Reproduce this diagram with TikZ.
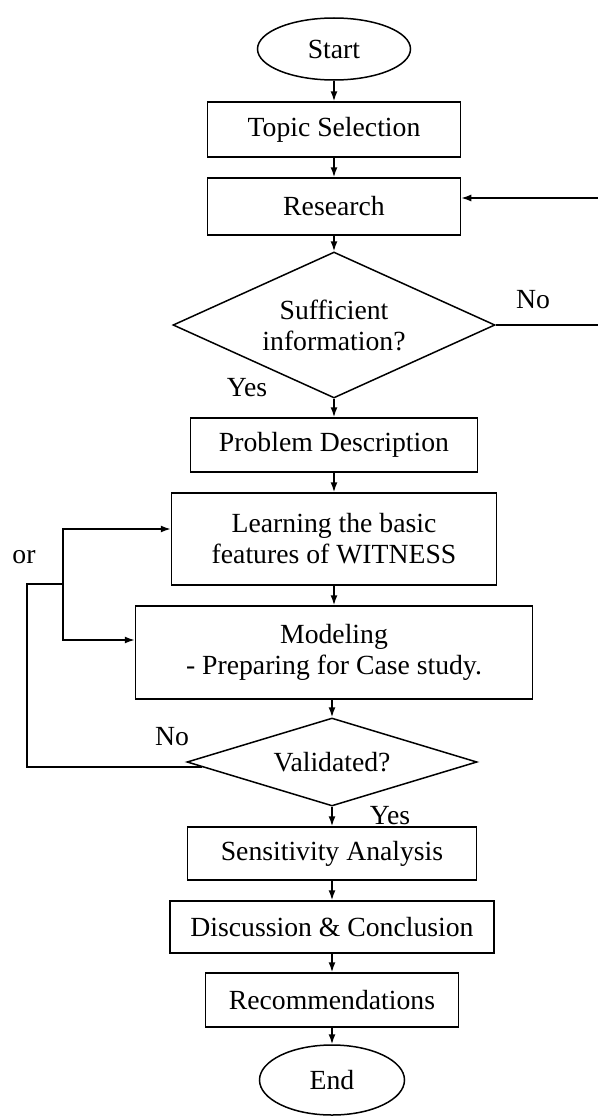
\documentclass[tikz,border=0pt]{standalone}
\usepackage{fontspec}
\setmainfont{Liberation Serif}
\usetikzlibrary{shapes.geometric,arrows.meta,calc}

\begin{document}
\begin{tikzpicture}[x=1pt, y=-1pt, line width=1.5pt,
        font=\fontsize{27.7}{31}\selectfont,
        >={Latex[length=10pt,width=7pt]},
        stepbox/.style={draw, rectangle, inner sep=0pt, align=center},
        endpoint/.style={draw, ellipse, inner sep=0pt},
        decision/.style={draw, diamond, inner sep=0pt, align=center}]
        \useasboundingbox (0,0) rectangle (597,1116);

        % Main column
        \node[endpoint, minimum width=153pt, minimum height=62pt] (start) at (334,49) {Start};
        \node[stepbox, minimum width=253pt, minimum height=55pt] (topic) at (334,129.5) {Topic Selection};
        \node[stepbox, minimum width=253pt, minimum height=57pt] (research) at (334,206.5) {Research};
        \node[decision, aspect=2.2, minimum width=322pt, minimum height=146pt] (suff) at (334,325) {Sufficient\\information?};
        \node[stepbox, minimum width=287pt, minimum height=54pt] (problem) at (334,445) {Problem Description};
        \node[stepbox, minimum width=325pt, minimum height=92pt] (learn) at (334,539) {Learning the basic\\features of WITNESS};
        \node[stepbox, minimum width=397pt, minimum height=93pt] (model) at (334,652.5) {Modeling\\- Preparing for Case study.};
        \node[decision, aspect=3.3, minimum width=290pt, minimum height=88pt] (valid) at (332,762) {Validated?};
        \node[stepbox, minimum width=289pt, minimum height=53pt] (sens) at (332,853.5) {Sensitivity Analysis};
        \node[stepbox, minimum width=324pt, minimum height=52pt] (disc) at (332,927) {Discussion \& Conclusion};
        \node[stepbox, minimum width=253pt, minimum height=54pt] (recom) at (332,1000) {Recommendations};
        \node[endpoint, minimum width=145pt, minimum height=70pt] (end) at (332,1080) {End};

        % Arrows down the column
        \draw[->] (start) -- (topic);
        \draw[->] (topic) -- (research);
        \draw[->] (research) -- (suff);
        \draw[->] (suff) -- (problem);
        \draw[->] (problem) -- (learn);
        \draw[->] (learn) -- (model);
        \draw[->] (valid.north |- model.south) -- (valid.north);
        \draw[->] (valid) -- (sens);
        \draw[->] (sens) -- (disc);
        \draw[->] (disc) -- (recom);
        \draw[->] (recom) -- (end);

        % Loop back to research
        \coordinate (rtop) at (601,198);
        \draw[->] (suff.east) -| (rtop) -- (rtop -| research.east);

        % Loop back from validation
        \coordinate (lstart) at ($(valid.west)!0.11!(valid.south)$);
        \coordinate (lbot) at (27,767);
        \coordinate (fork) at (63,584);
        \coordinate (forkA) at (63,529);
        \coordinate (forkB) at (63,640);
        \draw (lstart) -- (lstart -| lbot) |- (fork);
        \draw[->] (fork) -- (forkA) -- (forkA -| learn.west);
        \draw[->] (fork) -- (forkB) -- (forkB -| model.west);

        % Branch labels
        \node (noA) at (533,300) {No};
        \node (yesA) at (247,388) {Yes};
        \node (noB) at (172,737) {No};
        \node (yesB) at (390,816) {Yes};
        \node (orlbl) at (24,557) {or};
    \end{tikzpicture}
\end{document}
